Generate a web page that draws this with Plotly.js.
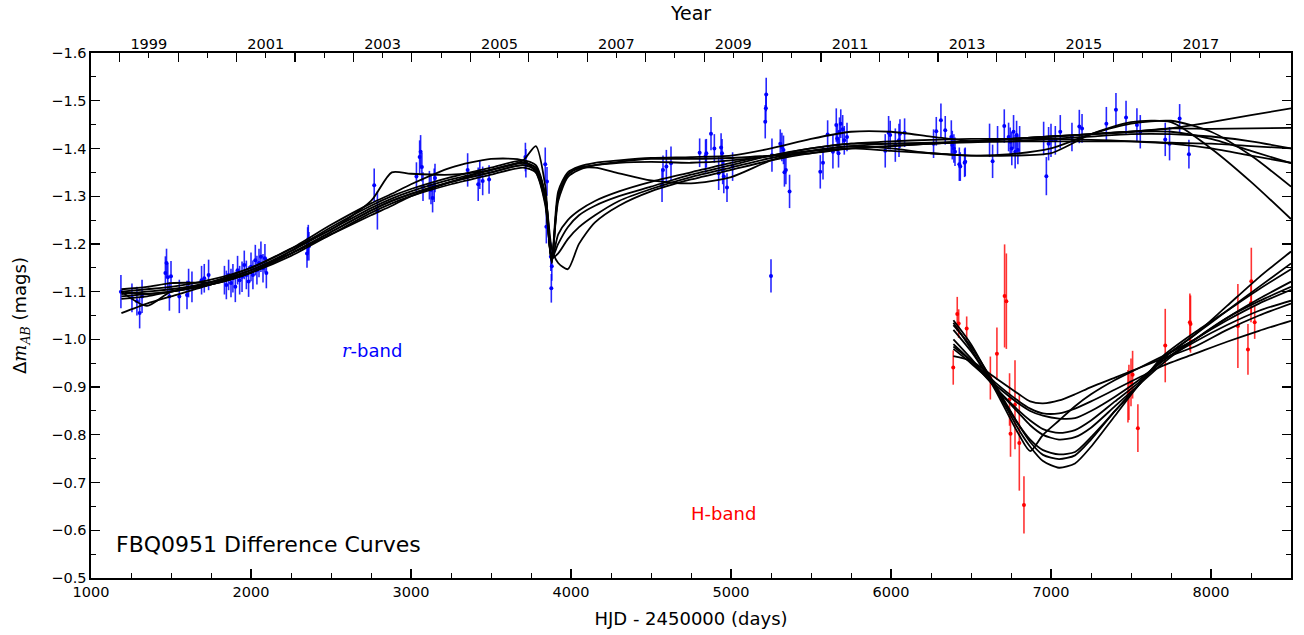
<!DOCTYPE html>
<html>
<head>
<meta charset="utf-8">
<script src="https://cdn.plot.ly/plotly-3.0.1.min.js"></script>
<style>
  html, body { margin: 0; padding: 0; background: #fff; }
  #chart { width: 1304px; height: 635px; }
</style>
</head>
<body>
<div id="chart"></div>
<script>
// ---- r-band photometry (HJD - 2450000, delta magnitude, 1-sigma error) ----
const rHJD = [
  1187, 1256, 1287, 1304, 1319,
  1465, 1472, 1480, 1490, 1500,
  1552, 1600, 1610, 1631, 1691, 1708, 1735,
  1834, 1846, 1860, 1875, 1887, 1902, 1916, 1929, 1944, 1958, 1971, 1985, 2000, 2012, 2027, 2037, 2050, 2062, 2075, 2087, 2096,
  2350, 2354, 2358, 2362,
  2770, 2790,
  3034, 3054, 3060, 3068, 3075, 3115, 3125, 3135, 3145, 3150,
  3354, 3420, 3430, 3448, 3488,
  3715, 3718, 3839, 3850, 3846, 3874, 3877, 3880,
  4569, 4575, 4596, 4625,
  4804, 4841, 4846, 4875, 4896, 4923, 4938, 4944, 4948, 4955, 4975, 5010,
  5214, 5218, 5220, 5250, 5256, 5308, 5318, 5328, 5334, 5343, 5366,
  5558, 5575, 5604, 5637, 5658, 5664, 5672, 5678, 5686, 5698, 5708, 5725,
  5964, 5985, 5995, 6027, 6050, 6056, 6085,
  6266, 6283, 6312, 6339, 6377, 6383, 6393, 6400, 6427, 6433, 6460, 6464,
  6616, 6635, 6666, 6708, 6735, 6745, 6755, 6766, 6776, 6785, 6793, 6804,
  6954, 6971, 6985, 7000, 7027, 7058, 7131, 7177, 7194,
  7346, 7406, 7469, 7537, 7558,
  7714, 7741, 7804, 7862
];
const rMag = [
  -1.100, -1.087, -1.080, -1.055, -1.090,
  -1.139, -1.160, -1.130, -1.090, -1.132,
  -1.090, -1.093, -1.118, -1.110, -1.124, -1.128, -1.135,
  -1.124, -1.114, -1.135, -1.118, -1.128, -1.110, -1.145, -1.124, -1.131, -1.156, -1.135, -1.121, -1.152, -1.135, -1.166, -1.145, -1.160, -1.173, -1.149, -1.170, -1.139,
  -1.180, -1.200, -1.210, -1.195,
  -1.323, -1.270,
  -1.341, -1.382, -1.393, -1.361, -1.320, -1.323, -1.313, -1.296, -1.323, -1.338,
  -1.355, -1.325, -1.345, -1.332, -1.335,
  -1.382, -1.369, -1.367, -1.331, -1.236, -1.173, -1.107, -1.153,
  -1.323, -1.355, -1.362, -1.369,
  -1.391, -1.384, -1.390, -1.431, -1.400, -1.348, -1.402, -1.390, -1.355, -1.341, -1.318, -1.362,
  -1.456, -1.484, -1.513, -1.133, -1.386, -1.410, -1.403, -1.397, -1.350, -1.355, -1.310,
  -1.351, -1.370, -1.429, -1.393, -1.449, -1.421, -1.390, -1.435, -1.452, -1.440, -1.417, -1.424,
  -1.395, -1.433, -1.428, -1.407, -1.417, -1.431, -1.433,
  -1.410, -1.436, -1.459, -1.438, -1.424, -1.407, -1.400, -1.393, -1.367, -1.362, -1.370, -1.372,
  -1.417, -1.373, -1.417, -1.447, -1.424, -1.414, -1.400, -1.435, -1.393, -1.428, -1.397, -1.417,
  -1.421, -1.342, -1.410, -1.417, -1.417, -1.435, -1.424, -1.446, -1.442,
  -1.452, -1.481, -1.465, -1.449, -1.435,
  -1.419, -1.410, -1.463, -1.388
];
const rErr = [
  0.035, 0.030, 0.030, 0.032, 0.035,
  0.035, 0.030, 0.030, 0.030, 0.032,
  0.035, 0.030, 0.030, 0.032, 0.030, 0.030, 0.032,
  0.030, 0.030, 0.032, 0.030, 0.030, 0.032, 0.030, 0.030, 0.032, 0.030, 0.030, 0.032, 0.030, 0.030, 0.032, 0.030, 0.030, 0.032, 0.030, 0.030, 0.032,
  0.030, 0.035, 0.030, 0.030,
  0.035, 0.040,
  0.030, 0.035, 0.035, 0.030, 0.030, 0.030, 0.030, 0.030, 0.035, 0.030,
  0.035, 0.035, 0.030, 0.030, 0.030,
  0.030, 0.030, 0.035, 0.030, 0.035, 0.030, 0.030, 0.030,
  0.035, 0.030, 0.035, 0.035,
  0.030, 0.035, 0.030, 0.035, 0.030, 0.035, 0.030, 0.030, 0.030, 0.035, 0.030, 0.030,
  0.035, 0.030, 0.035, 0.035, 0.035, 0.030, 0.030, 0.030, 0.030, 0.030, 0.035,
  0.035, 0.035, 0.030, 0.035, 0.035, 0.030, 0.030, 0.030, 0.030, 0.030, 0.030, 0.030,
  0.035, 0.035, 0.030, 0.035, 0.035, 0.030, 0.030,
  0.030, 0.030, 0.035, 0.030, 0.035, 0.030, 0.030, 0.030, 0.035, 0.030, 0.030, 0.030,
  0.035, 0.035, 0.030, 0.035, 0.030, 0.030, 0.035, 0.035, 0.035, 0.030, 0.030, 0.030,
  0.035, 0.040, 0.035, 0.035, 0.030, 0.035, 0.030, 0.035, 0.030,
  0.035, 0.035, 0.035, 0.035, 0.035,
  0.035, 0.035, 0.030, 0.030
];

// ---- H-band photometry ----
const hHJD = [6389, 6414, 6423, 6473, 6621, 6662, 6710, 6721, 6741, 6747, 6775, 6802, 6831,
              7481, 7487, 7500, 7510, 7543, 7714, 7868, 7872, 8168, 8231, 8250, 8252, 8273];
const hMag = [-0.941, -1.053, -1.033, -1.023, -0.919, -0.970, -1.091, -1.080, -0.874, -0.802, -0.863, -0.783, -0.653,
              -0.881, -0.889, -0.910, -0.926, -0.814, -0.987, -1.036, -1.032, -1.028, -0.979, -1.076, -1.122, -1.036];
const hErr = [0.036, 0.036, 0.030, 0.025, 0.045, 0.055, 0.108, 0.100, 0.055, 0.048, 0.093, 0.100, 0.060,
              0.055, 0.058, 0.050, 0.050, 0.050, 0.077, 0.060, 0.060, 0.088, 0.053, 0.040, 0.070, 0.035];

// ---- r-band model difference curves ----
const rModelHJD = [1190, 1350, 1500, 1750, 2000, 2250, 2500, 2750, 2880, 3000, 3250, 3500, 3700, 3780, 3840, 3880, 3920, 3980,
                   4050, 4150, 4300, 4500, 4750, 5000, 5250, 5500, 5750, 6000, 6250, 6500, 6750, 7000, 7250, 7500, 7750, 8000, 8250, 8500];
const rModel1 = [-1.095, -1.100, -1.105, -1.120, -1.145, -1.185, -1.230, -1.275, -1.295, -1.310, -1.335, -1.355, -1.370, -1.360, -1.300, -1.170, -1.290, -1.340,
                 -1.355, -1.365, -1.372, -1.378, -1.378, -1.380, -1.385, -1.390, -1.400, -1.405, -1.410, -1.415, -1.420, -1.425, -1.430, -1.435, -1.442, -1.455, -1.470, -1.484];
const rModel2 = [-1.100, -1.070, -1.100, -1.115, -1.140, -1.180, -1.225, -1.270, -1.290, -1.305, -1.330, -1.350, -1.365, -1.355, -1.290, -1.160, -1.300, -1.345,
                 -1.358, -1.360, -1.348, -1.333, -1.327, -1.340, -1.375, -1.395, -1.405, -1.410, -1.410, -1.415, -1.420, -1.425, -1.430, -1.435, -1.442, -1.441, -1.442, -1.443];
const rModel3 = [-1.105, -1.110, -1.118, -1.120, -1.140, -1.185, -1.235, -1.280, -1.300, -1.315, -1.340, -1.360, -1.375, -1.365, -1.300, -1.165, -1.310, -1.350,
                 -1.362, -1.370, -1.375, -1.380, -1.382, -1.385, -1.400, -1.420, -1.435, -1.435, -1.425, -1.415, -1.415, -1.420, -1.425, -1.430, -1.430, -1.425, -1.415, -1.400];
const rModel4 = [-1.090, -1.095, -1.100, -1.120, -1.150, -1.190, -1.230, -1.290, -1.350, -1.347, -1.345, -1.355, -1.375, -1.405, -1.320, -1.170, -1.180, -1.210,
                 -1.235, -1.260, -1.290, -1.315, -1.340, -1.360, -1.380, -1.395, -1.405, -1.400, -1.390, -1.385, -1.385, -1.390, -1.430, -1.455, -1.455, -1.400, -1.330, -1.252];
const rModel5 = [-1.055, -1.075, -1.090, -1.115, -1.145, -1.180, -1.220, -1.260, -1.280, -1.300, -1.330, -1.355, -1.370, -1.360, -1.300, -1.190, -1.160, -1.147,
                 -1.200, -1.245, -1.280, -1.310, -1.335, -1.355, -1.375, -1.390, -1.400, -1.395, -1.390, -1.385, -1.388, -1.400, -1.430, -1.452, -1.458, -1.435, -1.385, -1.320];
const rModel6 = [-1.100, -1.095, -1.100, -1.115, -1.140, -1.180, -1.225, -1.270, -1.290, -1.305, -1.330, -1.350, -1.365, -1.355, -1.290, -1.170, -1.200, -1.235,
                 -1.260, -1.280, -1.300, -1.320, -1.345, -1.365, -1.385, -1.400, -1.410, -1.410, -1.412, -1.415, -1.420, -1.425, -1.430, -1.435, -1.435, -1.420, -1.395, -1.369];
const rModel7 = [-1.085, -1.090, -1.100, -1.115, -1.140, -1.175, -1.220, -1.265, -1.285, -1.300, -1.325, -1.345, -1.360, -1.350, -1.285, -1.165, -1.220, -1.250,
                 -1.270, -1.290, -1.310, -1.330, -1.350, -1.370, -1.385, -1.395, -1.400, -1.405, -1.410, -1.413, -1.415, -1.415, -1.415, -1.415, -1.412, -1.410, -1.405, -1.400];
const rModel8 = [-1.100, -1.105, -1.110, -1.125, -1.150, -1.190, -1.240, -1.285, -1.305, -1.325, -1.360, -1.378, -1.375, -1.350, -1.280, -1.160, -1.300, -1.345,
                 -1.360, -1.365, -1.370, -1.372, -1.370, -1.375, -1.385, -1.400, -1.410, -1.415, -1.418, -1.420, -1.420, -1.420, -1.418, -1.415, -1.410, -1.400, -1.385, -1.370];
const rModels = [rModel1, rModel2, rModel3, rModel4, rModel5, rModel6, rModel7, rModel8];

// ---- H-band model difference curves ----
const hModelHJD = [6390, 6500, 6650, 6800, 6870, 6950, 7050, 7150, 7250, 7400, 7550, 7700, 7900, 8100, 8300, 8500];
const hModel1 = [-1.040, -0.990, -0.900, -0.810, -0.775, -0.745, -0.731, -0.740, -0.775, -0.840, -0.905, -0.960, -1.010, -1.070, -1.130, -1.184];
const hModel2 = [-1.030, -0.985, -0.905, -0.820, -0.785, -0.758, -0.749, -0.757, -0.790, -0.850, -0.905, -0.960, -1.010, -1.060, -1.110, -1.159];
const hModel3 = [-1.020, -0.975, -0.900, -0.820, -0.790, -0.768, -0.759, -0.764, -0.795, -0.850, -0.905, -0.965, -1.015, -1.060, -1.105, -1.147];
const hModel4 = [-1.035, -0.980, -0.895, -0.800, -0.766, -0.800, -0.830, -0.860, -0.885, -0.915, -0.940, -0.965, -1.000, -1.045, -1.085, -1.121];
const hModel5 = [-1.000, -0.960, -0.900, -0.845, -0.820, -0.800, -0.790, -0.795, -0.815, -0.860, -0.905, -0.950, -1.000, -1.045, -1.080, -1.110];
const hModel6 = [-0.990, -0.955, -0.900, -0.850, -0.830, -0.812, -0.804, -0.810, -0.830, -0.870, -0.910, -0.955, -1.000, -1.040, -1.075, -1.104];
const hModel7 = [-0.980, -0.950, -0.905, -0.865, -0.850, -0.840, -0.834, -0.835, -0.850, -0.880, -0.915, -0.955, -0.995, -1.030, -1.060, -1.081];
const hModel8 = [-0.985, -0.955, -0.910, -0.870, -0.855, -0.845, -0.845, -0.855, -0.870, -0.895, -0.920, -0.945, -0.970, -0.995, -1.018, -1.039];
const hModel9 = [-0.965, -0.955, -0.920, -0.885, -0.870, -0.866, -0.872, -0.885, -0.900, -0.920, -0.940, -0.960, -0.985, -1.020, -1.050, -1.075];
const hModels = [hModel1, hModel2, hModel3, hModel4, hModel5, hModel6, hModel7, hModel8, hModel9];

// ---- calendar years for the top axis ----
const years = [1999, 2000, 2001, 2002, 2003, 2004, 2005, 2006, 2007, 2008,
               2009, 2010, 2011, 2012, 2013, 2014, 2015, 2016, 2017, 2018];
const labelYears = years.filter(y => y % 2 === 1);

// Julian-day conversion used to place the calendar ticks
const toHJD = (ms) => ms / 86400000 + 2440587.5 - 2450000;
const yearStart = years.map(y => toHJD(Date.UTC(y, 0, 1)));
const yearMid = years.map(y => toHJD(Date.UTC(y, 6, 2)));
const labelPos = labelYears.map(y => toHJD(Date.UTC(y, 6, 2)));

const FONT = 'DejaVu Sans, Arial, sans-serif';
const traces = [];

traces.push({
  x: rHJD, y: rMag, type: 'scatter', mode: 'markers',
  marker: { color: '#0000ff', size: 4 },
  error_y: { type: 'data', array: rErr, visible: true, color: 'rgba(0,0,255,0.85)', thickness: 1.6, width: 0 },
  hoverinfo: 'skip', showlegend: false
});
traces.push({
  x: hHJD, y: hMag, type: 'scatter', mode: 'markers',
  marker: { color: '#ff0000', size: 4 },
  error_y: { type: 'data', array: hErr, visible: true, color: 'rgba(255,0,0,0.8)', thickness: 1.6, width: 0 },
  hoverinfo: 'skip', showlegend: false
});
rModels.forEach(m => traces.push({
  x: rModelHJD, y: m, type: 'scatter', mode: 'lines',
  line: { color: '#000', width: 1.8, shape: 'spline', smoothing: 0.7 },
  hoverinfo: 'skip', showlegend: false
}));
hModels.forEach(m => traces.push({
  x: hModelHJD, y: m, type: 'scatter', mode: 'lines',
  line: { color: '#000', width: 1.8, shape: 'spline', smoothing: 0.7 },
  hoverinfo: 'skip', showlegend: false
}));
// empty traces that keep the two calendar axes alive
traces.push({ x: [null], y: [null], xaxis: 'x2', yaxis: 'y', type: 'scatter', mode: 'markers', showlegend: false, hoverinfo: 'skip' });
traces.push({ x: [null], y: [null], xaxis: 'x3', yaxis: 'y', type: 'scatter', mode: 'markers', showlegend: false, hoverinfo: 'skip' });

const tickFont = { family: FONT, size: 14.5, color: '#000' };

const layout = {
  width: 1304, height: 635,
  margin: { l: 91, r: 13, t: 53, b: 57 },
  paper_bgcolor: '#fff', plot_bgcolor: '#fff',
  font: { family: FONT, color: '#000' },
  showlegend: false,
  xaxis: {
    range: [1000, 8500], tick0: 1000, dtick: 1000,
    ticks: 'inside', ticklen: 9, tickwidth: 1.2, tickcolor: '#000',
    minor: { dtick: 250, ticks: 'inside', ticklen: 5, tickwidth: 1, tickcolor: '#000' },
    showline: true, linecolor: '#000', linewidth: 1.6, mirror: true,
    showgrid: false, zeroline: false,
    tickfont: tickFont,
    title: { text: 'HJD - 2450000 (days)', font: { family: FONT, size: 18, color: '#000' }, standoff: 13 }
  },
  xaxis2: {
    overlaying: 'x', side: 'top', range: [1000, 8500],
    tickmode: 'array', tickvals: yearStart, showticklabels: false,
    ticks: 'inside', ticklen: 9, tickwidth: 1.2, tickcolor: '#000',
    minor: { tickmode: 'array', tickvals: yearMid, ticks: 'inside', ticklen: 5, tickwidth: 1, tickcolor: '#000' },
    showline: false, showgrid: false, zeroline: false
  },
  xaxis3: {
    overlaying: 'x', side: 'top', range: [1000, 8500],
    tickmode: 'array', tickvals: labelPos, ticktext: labelYears.map(String),
    ticks: '', showline: false, showgrid: false, zeroline: false,
    tickfont: tickFont,
    title: { text: 'Year', font: { family: FONT, size: 19, color: '#000' }, standoff: 10 }
  },
  yaxis: {
    range: [-0.5, -1.6], dtick: 0.1, tick0: -1.6, tickformat: '.1f',
    ticks: 'inside', ticklen: 9, tickwidth: 1.2, tickcolor: '#000',
    minor: { dtick: 0.05, ticks: 'inside', ticklen: 5, tickwidth: 1, tickcolor: '#000' },
    showline: true, linecolor: '#000', linewidth: 1.6, mirror: 'ticks',
    showgrid: false, zeroline: false,
    tickfont: tickFont,
    title: {
      text: 'Δ<span style="font-family:\'DejaVu Serif\'"><i>m</i><sub><i>AB</i></sub></span> (mags)',
      font: { family: FONT, size: 18, color: '#000' }, standoff: 20
    }
  },
  annotations: [
    {
      x: 2758, y: -0.976, xref: 'x', yref: 'y', showarrow: false,
      text: '<span style="font-family:\'DejaVu Serif\'"><i>r</i></span>-band',
      font: { family: FONT, size: 18, color: '#0000ff' }
    },
    {
      x: 4952, y: -0.635, xref: 'x', yref: 'y', showarrow: false,
      text: 'H-band', font: { family: FONT, size: 18, color: '#ff0000' }
    },
    {
      x: 1146, y: -0.57, xref: 'x', yref: 'y', xanchor: 'left', showarrow: false,
      text: 'FBQ0951 Difference Curves', font: { family: FONT, size: 22, color: '#000' }
    }
  ]
};

Plotly.newPlot('chart', traces, layout, { displayModeBar: false, staticPlot: true });
</script>
</body>
</html>
